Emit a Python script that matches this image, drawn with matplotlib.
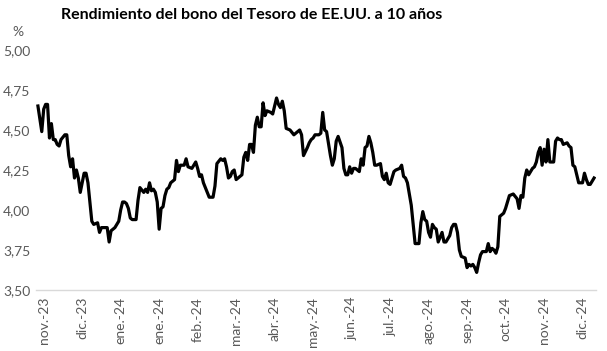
import matplotlib
matplotlib.use("Agg")
import matplotlib.pyplot as plt
from matplotlib.ticker import FuncFormatter, FixedLocator
import numpy as np

# sesiones (índice de día hábil) y rendimiento en %
dias = [
    0, 1, 2, 3, 4, 5, 6, 7, 8, 9,
    10, 11, 12, 14, 15, 16, 17, 18, 19, 20,
    21, 22, 23, 24, 25, 26, 27, 28, 29, 31,
    32, 33, 35, 36, 37, 38, 40, 42, 43, 44,
    45, 46, 47, 48, 49, 51, 52, 53, 55, 56,
    57, 58, 59, 60, 61, 62, 63, 64, 65, 66,
    67, 68, 69, 70, 71, 72, 73, 74, 75, 76,
    77, 78, 80, 82, 83, 84, 85, 86, 88, 89,
    91, 92, 93, 95, 96, 97, 98, 99, 100, 101,
    102, 103, 104, 106, 107, 108, 109, 110, 111, 112,
    113, 114, 115, 116, 117, 118, 119, 121, 122, 124,
    125, 126, 127, 128, 129, 131, 133, 135, 136, 137,
    138, 140, 141, 142, 143, 144, 146, 147, 148, 149,
    150, 152, 153, 154, 155, 156, 158, 159, 160, 161,
    162, 163, 164, 165, 167, 168, 169, 170, 171, 172,
    173, 174, 175, 176, 178, 179, 180, 181, 182, 183,
    185, 186, 188, 189, 190, 191, 192, 194, 195, 196,
    198, 199, 200, 201, 202, 203, 204, 205, 206, 207,
    208, 210, 211, 212, 213, 214, 215, 216, 217, 218,
    219, 220, 222, 223, 224, 225, 226, 227, 228, 229,
    230, 231, 233, 234, 235, 236, 237, 238, 239, 240,
    241, 242, 243, 244, 245, 247, 249, 250, 251, 252,
    253, 254, 255, 256, 257, 258, 259, 260, 261, 262,
    263, 264, 265, 266, 267, 268, 269, 270, 271, 272,
    273, 275, 276, 277, 278, 279, 280, 281, 283, 284,
    285, 286, 287, 289,
]
rendimiento = [
    4.65, 4.57, 4.49, 4.63, 4.66, 4.66, 4.45, 4.54, 4.44, 4.44,
    4.41, 4.40, 4.44, 4.47, 4.47, 4.34, 4.27, 4.32, 4.20, 4.25,
    4.20, 4.11, 4.17, 4.23, 4.23, 4.17, 4.05, 3.93, 3.91, 3.92,
    3.86, 3.89, 3.89, 3.89, 3.80, 3.87, 3.89, 3.93, 4.00, 4.05,
    4.05, 4.04, 4.01, 3.95, 3.94, 3.94, 4.06, 4.14, 4.11, 4.13,
    4.11, 4.17, 4.12, 4.13, 4.11, 4.05, 3.88, 4.01, 4.02, 4.09,
    4.13, 4.14, 4.17, 4.18, 4.19, 4.31, 4.24, 4.28, 4.28, 4.28,
    4.32, 4.27, 4.26, 4.30, 4.26, 4.21, 4.22, 4.17, 4.11, 4.08,
    4.08, 4.15, 4.29, 4.32, 4.31, 4.32, 4.27, 4.20, 4.21, 4.24,
    4.25, 4.19, 4.20, 4.22, 4.33, 4.36, 4.31, 4.41, 4.41, 4.36,
    4.53, 4.58, 4.52, 4.52, 4.67, 4.59, 4.62, 4.61, 4.60, 4.70,
    4.66, 4.64, 4.68, 4.62, 4.51, 4.50, 4.47, 4.49, 4.50, 4.47,
    4.34, 4.39, 4.42, 4.44, 4.45, 4.47, 4.47, 4.48, 4.61, 4.50,
    4.49, 4.34, 4.28, 4.32, 4.43, 4.46, 4.39, 4.26, 4.22, 4.22,
    4.27, 4.23, 4.26, 4.26, 4.24, 4.32, 4.28, 4.39, 4.40, 4.46,
    4.42, 4.36, 4.28, 4.28, 4.29, 4.21, 4.19, 4.23, 4.17, 4.16,
    4.24, 4.25, 4.26, 4.28, 4.21, 4.20, 4.17, 4.03, 3.91, 3.79,
    3.79, 3.92, 3.99, 3.94, 3.93, 3.86, 3.83, 3.91, 3.89, 3.88,
    3.80, 3.86, 3.80, 3.80, 3.82, 3.84, 3.89, 3.91, 3.91, 3.86,
    3.75, 3.71, 3.70, 3.64, 3.66, 3.65, 3.66, 3.64, 3.61, 3.67,
    3.72, 3.74, 3.74, 3.79, 3.74, 3.76, 3.75, 3.73, 3.77, 3.96,
    3.97, 3.98, 4.01, 4.05, 4.09, 4.10, 4.07, 4.01, 4.09, 4.08,
    4.20, 4.25, 4.22, 4.24, 4.26, 4.27, 4.30, 4.36, 4.39, 4.28,
    4.38, 4.30, 4.44, 4.30, 4.30, 4.30, 4.43, 4.45, 4.44, 4.44,
    4.41, 4.42, 4.40, 4.39, 4.28, 4.27, 4.22, 4.17, 4.17, 4.23,
    4.19, 4.16, 4.16, 4.20,
]

etiquetas = ["nov.-23", "dic.-23", "ene.-24", "ene.-24", "feb.-24", "mar.-24",
             "abr.-24", "may.-24", "jun.-24", "jul.-24", "ago.-24", "sep.-24",
             "oct.-24", "nov.-24", "dic.-24"]
y_ticks = [3.50, 3.75, 4.00, 4.25, 4.50, 4.75, 5.00]

plt.rcParams['font.family'] = ['Lato', 'DejaVu Sans']
gris = '#595959'

fig = plt.figure(figsize=(6.07, 3.51), dpi=100)
ax = fig.add_axes([36 / 607, 61 / 351, 560 / 607, 240 / 351])

ax.plot(dias, rendimiento, color='black', linewidth=2.3, solid_joinstyle='round')

ax.set_xlim(-1, 290)
ax.set_ylim(3.5, 5.0)
ax.yaxis.set_major_locator(FixedLocator(y_ticks))
ax.yaxis.set_major_formatter(FuncFormatter(lambda v, p: f"{v:.2f}".replace('.', ',')))
ax.set_xticks(3 + 20 * np.arange(len(etiquetas)))
ax.set_xticklabels(etiquetas, rotation=90)

ax.tick_params(axis='both', length=0, colors=gris, labelsize=10)
ax.tick_params(axis='y', pad=4)
ax.tick_params(axis='x', pad=5)
for s in ['top', 'right', 'left']:
    ax.spines[s].set_visible(False)
ax.spines['bottom'].set_color('#d9d9d9')
ax.spines['bottom'].set_linewidth(1.0)

fig.text(0.415, 1 - 15 / 351, "Rendimiento del bono del Tesoro de EE.UU. a 10 años",
         ha='center', va='center', fontsize=11.5, fontweight='bold', color='black')
fig.text(18 / 607, 1 - 32 / 351, "%", ha='center', va='center', fontsize=10, color=gris)

fig.savefig("out.png", dpi=100)
